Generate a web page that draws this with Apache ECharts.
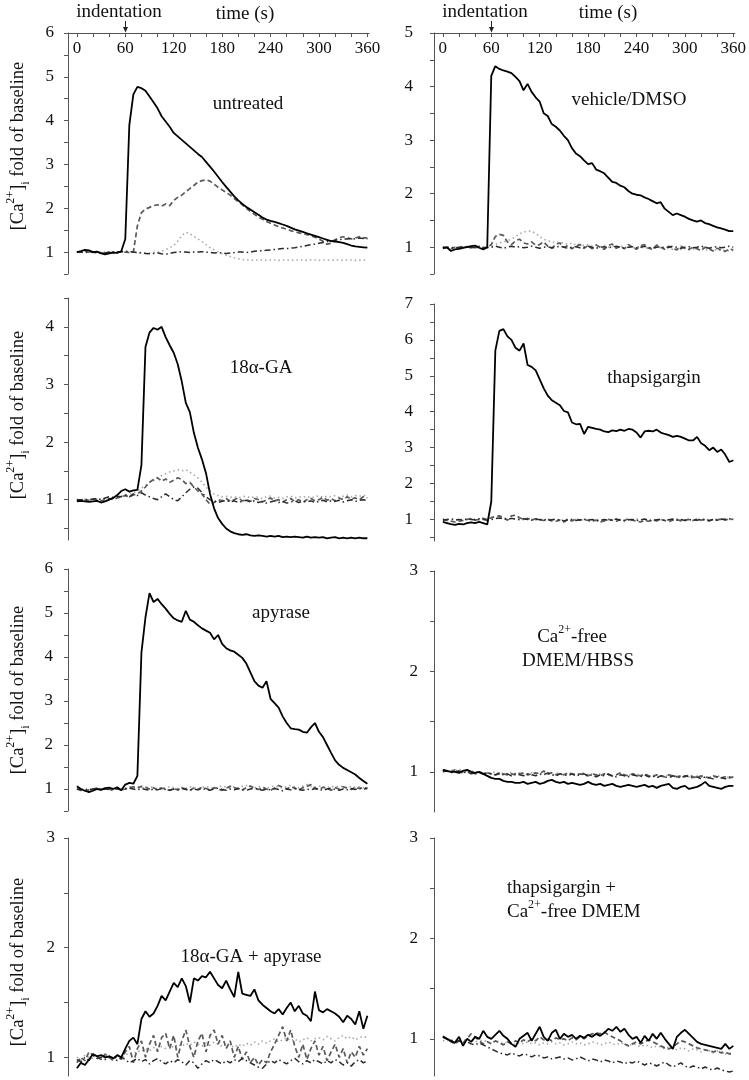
<!DOCTYPE html>
<html><head><meta charset="utf-8">
<script src="https://cdn.jsdelivr.net/npm/echarts@6/dist/echarts.min.js"></script>
<style>html,body{margin:0;padding:0;background:#fff}#c{width:749px;height:1080px}</style>
</head><body><div id="c"></div><script>
const time = [0,5,10,15,20,25,30,35,40,45,50,55,
60,65,70,75,80,85,90,95,100,105,110,115,
120,125,130,135,140,145,150,155,160,165,170,175,
180,185,190,195,200,205,210,215,220,225,230,235,
240,245,250,255,260,265,270,275,280,285,290,295,
300,305,310,315,320,325,330,335,340,345,350,355,
360];
const xTickValues = [0,20,40,60,80,100,120,140,160,180,200,220,240,260,280,300,320,340,360];
const xLabelValues = [0,60,120,180,240,300,360];

// untreated
const untreatedSolid = [1.00,1.02,1.05,1.04,1.00,1.01,0.97,0.95,0.97,0.99,0.98,1.02,
1.30,3.90,4.60,4.77,4.74,4.68,4.55,4.42,4.28,4.10,3.98,3.86,
3.72,3.64,3.56,3.48,3.40,3.32,3.24,3.17,3.06,2.95,2.84,2.72,
2.60,2.49,2.38,2.27,2.18,2.10,2.03,1.97,1.91,1.85,1.79,1.74,
1.71,1.69,1.66,1.63,1.60,1.56,1.52,1.49,1.46,1.43,1.40,1.37,
1.34,1.31,1.28,1.25,1.24,1.23,1.21,1.18,1.15,1.13,1.12,1.11,
1.10];
const untreatedDashed = [1.00,1.00,1.02,1.00,0.99,1.00,0.98,0.97,0.98,1.00,1.00,1.00,
1.00,0.99,1.00,1.60,1.90,1.98,2.02,2.06,2.08,2.05,2.10,2.06,
2.18,2.25,2.30,2.38,2.45,2.52,2.60,2.63,2.65,2.62,2.55,2.48,
2.42,2.36,2.30,2.22,2.15,2.08,2.00,1.93,1.86,1.80,1.75,1.70,
1.66,1.62,1.58,1.55,1.52,1.49,1.46,1.44,1.42,1.40,1.37,1.34,
1.30,1.25,1.18,1.20,1.28,1.33,1.35,1.33,1.30,1.32,1.35,1.33,
1.32];
const untreatedDotted = [1.00,1.00,1.00,1.00,1.00,1.00,1.00,1.00,1.00,1.00,1.00,1.00,
1.00,1.00,1.00,0.99,0.99,0.98,0.98,0.99,1.00,1.02,1.06,1.10,
1.15,1.25,1.38,1.45,1.42,1.36,1.30,1.24,1.17,1.10,1.05,1.00,
0.96,0.93,0.90,0.87,0.85,0.83,0.82,0.82,0.81,0.82,0.82,0.81,
0.82,0.82,0.81,0.82,0.82,0.81,0.82,0.82,0.82,0.81,0.82,0.82,
0.81,0.82,0.82,0.81,0.82,0.82,0.81,0.82,0.82,0.81,0.81,0.82,
0.81];
const untreatedDashDot = [1.00,1.00,0.99,1.00,1.00,0.98,0.97,0.98,1.00,1.00,1.00,1.01,
1.02,1.01,1.00,0.99,0.98,0.97,0.96,0.97,0.98,0.96,0.95,0.97,
0.99,1.00,1.01,1.00,0.99,1.00,1.00,1.01,1.00,0.99,0.98,0.99,
0.98,0.97,0.98,0.99,1.00,1.00,0.99,1.00,1.02,1.03,1.03,1.04,
1.05,1.06,1.07,1.08,1.08,1.09,1.10,1.12,1.13,1.15,1.17,1.18,
1.20,1.22,1.24,1.25,1.27,1.28,1.30,1.30,1.31,1.30,1.32,1.31,
1.30];

// vehicle/DMSO
const vehicleSolid = [0.98,1.00,0.93,0.96,0.97,0.99,1.00,1.02,1.03,0.99,0.96,1.00,
4.20,4.38,4.33,4.30,4.28,4.25,4.18,4.10,3.93,4.05,3.90,3.80,
3.72,3.50,3.45,3.30,3.25,3.18,3.08,3.00,2.85,2.75,2.70,2.62,
2.55,2.57,2.45,2.42,2.38,2.30,2.22,2.20,2.15,2.12,2.05,2.00,
1.98,1.97,1.93,1.90,1.86,1.82,1.84,1.72,1.66,1.60,1.63,1.60,
1.57,1.53,1.50,1.48,1.50,1.45,1.43,1.40,1.37,1.35,1.33,1.30,
1.30];
const vehicleDashed = [1.00,0.99,0.97,1.00,0.98,1.00,1.01,1.00,0.99,1.00,0.98,1.00,
1.05,1.20,1.24,1.22,1.10,1.05,1.12,1.15,1.08,1.06,1.10,1.04,
1.05,1.10,1.02,0.98,1.05,1.08,1.00,1.03,0.97,1.02,1.05,0.98,
1.03,0.97,1.04,1.00,0.96,1.03,1.06,0.98,1.02,0.97,1.05,1.00,
0.96,1.03,1.05,0.98,0.96,1.04,1.00,0.96,1.02,0.98,0.95,1.02,
0.98,0.96,1.00,0.97,0.94,1.00,0.97,0.93,0.98,0.95,0.92,0.97,
0.95];
const vehicleDotted = [1.00,1.01,0.99,1.00,1.00,1.02,1.00,0.99,1.00,1.00,0.99,1.00,
1.02,1.05,1.08,1.10,1.12,1.15,1.20,1.25,1.28,1.30,1.30,1.26,
1.20,1.15,1.12,1.10,1.08,1.10,1.07,1.05,1.08,1.04,1.06,1.03,
1.05,1.02,1.04,1.01,1.03,1.00,1.02,1.00,1.03,0.99,1.01,0.98,
1.02,0.99,1.00,0.97,1.00,0.98,1.00,0.97,0.99,0.96,0.98,0.96,
0.98,0.95,0.97,0.95,0.97,0.94,0.96,0.94,0.96,0.93,0.95,0.93,
0.94];
const vehicleDashDot = [1.00,0.99,1.00,0.98,1.00,1.01,1.00,0.99,1.00,1.02,1.00,0.99,
1.00,1.02,1.00,0.98,1.00,1.02,1.00,1.01,0.99,1.00,1.02,1.00,
0.98,1.00,1.01,0.99,1.00,1.02,1.00,0.98,1.00,1.01,0.99,1.00,
1.02,1.00,0.98,1.00,1.01,0.99,1.00,1.02,1.00,0.98,1.00,1.01,
0.99,1.00,1.02,1.00,0.98,1.00,1.01,0.99,1.00,1.02,1.00,0.98,
1.00,1.01,0.99,1.00,1.02,1.00,0.98,1.00,1.01,0.99,1.00,1.02,
1.00];

// 18α-GA
const gaSolid = [0.97,0.98,0.97,0.96,0.97,0.98,0.95,0.97,1.00,1.03,1.08,1.15,
1.18,1.14,1.16,1.17,1.60,3.65,3.90,3.98,3.95,4.00,3.82,3.68,
3.55,3.35,3.05,2.68,2.52,2.16,1.90,1.70,1.46,1.10,0.85,0.68,
0.58,0.50,0.45,0.42,0.40,0.39,0.40,0.38,0.37,0.38,0.37,0.36,
0.37,0.36,0.37,0.35,0.36,0.35,0.36,0.35,0.34,0.36,0.34,0.35,
0.34,0.35,0.33,0.34,0.35,0.33,0.34,0.33,0.34,0.33,0.34,0.33,
0.33];
const gaDashed = [1.00,0.98,1.00,0.99,1.01,1.00,0.98,1.00,1.02,1.00,1.03,1.05,
1.07,1.05,1.08,1.10,1.15,1.22,1.30,1.35,1.38,1.32,1.36,1.30,
1.34,1.38,1.35,1.28,1.30,1.22,1.15,1.10,1.00,0.92,0.95,1.00,
0.98,1.02,0.97,1.00,1.03,0.98,1.00,0.97,1.02,1.00,0.96,1.00,
1.03,0.98,1.00,0.96,1.00,1.02,0.97,1.00,0.95,1.00,1.02,0.98,
1.00,1.04,0.99,1.02,0.98,1.03,1.00,1.05,1.01,1.03,1.00,1.05,
1.03];
const gaDotted = [1.00,1.00,1.01,1.00,1.00,1.02,1.00,1.01,1.02,1.03,1.05,1.06,
1.08,1.10,1.12,1.15,1.20,1.25,1.30,1.33,1.38,1.42,1.45,1.48,
1.50,1.52,1.50,1.52,1.48,1.43,1.38,1.30,1.22,1.15,1.10,1.07,
1.05,1.06,1.04,1.05,1.03,1.05,1.06,1.03,1.05,1.04,1.02,1.05,
1.06,1.03,1.04,1.02,1.05,1.06,1.03,1.05,1.04,1.06,1.03,1.05,
1.07,1.04,1.06,1.05,1.07,1.04,1.06,1.08,1.05,1.07,1.06,1.08,
1.05];
const gaDashDot = [1.00,1.00,0.99,1.00,1.01,1.02,1.00,1.03,1.05,1.04,1.06,1.05,
1.08,1.05,1.10,1.07,1.12,1.08,1.05,1.02,1.00,1.05,1.10,1.05,
1.00,0.98,1.05,1.12,1.18,1.22,1.20,1.12,1.05,1.00,0.98,0.95,
0.97,0.99,0.96,0.98,0.95,0.97,0.99,0.96,0.98,0.95,0.97,0.94,
0.96,0.98,0.95,0.97,0.94,0.96,0.98,0.95,0.97,0.96,0.98,0.95,
0.97,0.99,0.96,0.98,0.97,0.99,0.96,0.98,1.00,0.97,0.99,1.00,
0.98];

// thapsigargin
const thapsSolid = [0.93,0.90,0.87,0.85,0.88,0.86,0.90,0.92,0.90,0.93,0.90,0.86,
1.50,5.70,6.25,6.30,6.10,6.00,5.78,5.70,5.90,5.30,5.25,5.15,
4.90,4.65,4.45,4.32,4.25,4.18,4.02,3.98,3.70,3.65,3.66,3.38,
3.58,3.55,3.52,3.50,3.45,3.43,3.48,3.46,3.50,3.47,3.52,3.50,
3.42,3.28,3.45,3.47,3.45,3.50,3.42,3.38,3.35,3.30,3.33,3.30,
3.25,3.20,3.20,3.30,3.12,3.05,2.93,3.00,2.88,2.95,2.80,2.60,
2.65];
const thapsDashed = [1.00,0.97,0.95,0.93,0.95,0.97,1.00,1.02,0.98,1.00,1.03,1.00,
1.05,1.08,1.10,1.05,0.98,1.10,1.12,1.05,1.00,1.03,0.98,1.02,
1.00,0.97,1.00,0.96,0.95,0.98,0.93,1.00,0.96,1.02,0.98,1.00,
0.97,0.95,0.98,0.93,0.96,1.00,0.98,0.95,1.00,0.97,1.02,0.98,
0.95,0.93,0.97,0.95,1.00,0.96,1.00,0.97,0.94,0.98,1.00,0.96,
0.98,1.00,0.97,1.01,0.98,1.00,0.96,1.00,0.98,1.02,0.99,1.01,
1.00];
const thapsDotted = [1.02,1.00,0.98,0.97,0.99,1.00,1.02,1.03,1.00,0.99,1.01,1.03,
1.05,1.03,1.06,1.02,1.04,1.00,1.03,1.01,0.99,1.02,1.00,0.98,
1.01,0.99,1.02,0.98,1.00,0.97,0.99,1.01,0.98,1.00,0.97,0.99,
1.00,0.98,1.01,0.97,0.99,1.00,0.98,1.01,0.99,0.97,1.00,0.98,
1.01,0.99,0.97,1.00,0.98,1.01,0.99,0.97,1.00,0.98,1.01,0.99,
0.98,1.00,0.98,1.01,0.99,1.02,0.98,1.00,1.01,0.99,1.02,1.00,
1.01];
const thapsDashDot = [0.98,1.00,1.02,0.99,1.00,0.98,1.01,1.00,0.99,1.02,1.00,0.98,
1.00,1.02,1.04,1.02,1.00,1.03,1.01,0.99,1.02,1.00,0.98,1.01,
0.99,1.00,0.97,0.99,1.01,0.98,0.96,0.99,1.00,0.97,0.99,1.01,
0.98,1.00,0.96,0.98,1.00,0.97,0.99,1.01,0.98,0.96,0.99,1.00,
0.97,0.99,1.01,0.98,0.96,0.99,1.00,0.97,0.99,1.01,0.98,1.00,
0.97,0.99,1.00,0.98,1.01,0.99,0.97,1.00,0.98,1.01,0.99,1.02,
1.00];

// apyrase
const apyrSolid = [1.06,1.00,0.96,0.93,0.96,1.00,0.98,1.02,1.03,1.00,1.04,0.97,
1.10,1.14,1.12,1.30,4.10,4.90,5.45,5.25,5.32,5.20,5.10,4.98,
4.88,4.83,4.80,5.05,4.85,4.80,4.72,4.65,4.60,4.55,4.40,4.50,
4.30,4.20,4.15,4.12,4.05,3.98,3.85,3.65,3.45,3.35,3.30,3.45,
3.05,2.95,2.85,2.65,2.50,2.38,2.36,2.35,2.30,2.28,2.40,2.50,
2.30,2.18,2.00,1.82,1.65,1.55,1.48,1.43,1.38,1.33,1.25,1.18,
1.12];
const apyrDashed = [1.00,0.97,0.95,0.98,1.00,1.02,0.99,1.01,1.00,0.96,1.02,0.98,
1.00,1.03,1.05,1.02,1.06,1.04,1.00,1.03,0.98,1.02,1.00,0.97,
1.01,0.98,1.03,1.00,0.97,1.02,0.99,1.04,1.01,0.98,1.03,1.00,
0.97,1.02,1.06,1.03,1.00,0.98,1.03,1.07,1.02,0.99,1.04,1.00,
0.97,1.02,1.08,1.04,1.00,1.05,1.02,0.98,1.03,1.06,1.10,1.02,
0.99,1.04,1.01,0.97,1.03,1.00,1.05,1.02,0.99,1.04,1.01,1.03,
1.02];
const apyrDotted = [1.02,1.00,0.98,1.00,1.01,0.99,1.02,1.00,1.01,0.99,1.03,1.00,
1.02,1.05,1.03,1.06,1.04,1.02,1.05,1.03,1.00,1.04,1.02,1.05,
1.03,1.01,1.04,1.02,1.05,1.03,1.00,1.04,1.06,1.03,1.01,1.05,
1.07,1.04,1.02,1.05,1.03,1.06,1.08,1.05,1.03,1.06,1.04,1.02,
1.05,1.07,1.04,1.02,1.06,1.08,1.05,1.03,1.07,1.10,1.06,1.04,
1.07,1.05,1.03,1.06,1.04,1.07,1.05,1.03,1.06,1.04,1.05,1.03,
1.04];
const apyrDashDot = [1.00,0.98,1.00,0.97,1.00,1.01,0.98,1.00,0.99,1.01,1.00,0.98,
1.00,1.02,1.00,0.98,1.01,0.99,0.97,1.00,0.98,1.01,0.99,0.97,
1.00,0.98,1.01,0.99,0.97,1.00,0.98,1.01,0.99,0.97,1.00,1.02,
0.99,0.97,1.00,0.98,1.01,0.99,0.97,1.00,1.02,0.99,0.97,1.00,
0.98,1.01,0.99,0.96,1.00,0.98,1.01,0.99,0.97,1.00,0.98,1.01,
0.99,0.97,1.00,1.02,0.99,0.97,1.00,0.98,1.01,0.99,1.02,1.00,
1.01];

// Ca2+-free DMEM/HBSS
const hbssSolid = [1.02,1.01,1.00,1.00,0.99,1.01,1.02,1.00,0.99,1.00,0.98,0.96,
0.94,0.93,0.93,0.91,0.90,0.90,0.89,0.89,0.90,0.88,0.89,0.90,
0.88,0.89,0.91,0.92,0.90,0.89,0.90,0.88,0.89,0.88,0.87,0.88,
0.90,0.88,0.87,0.88,0.86,0.87,0.88,0.86,0.85,0.86,0.87,0.86,
0.85,0.86,0.87,0.85,0.86,0.84,0.86,0.87,0.88,0.84,0.83,0.85,
0.86,0.83,0.84,0.85,0.87,0.90,0.86,0.85,0.84,0.83,0.85,0.86,
0.86];
const hbssDashed = [1.02,1.01,1.00,1.02,1.00,0.99,1.02,1.00,0.98,0.99,0.98,0.99,
0.98,0.97,0.98,0.98,0.97,0.98,0.97,0.98,0.99,0.97,0.98,0.99,
0.98,1.01,0.98,0.99,0.97,0.98,0.97,0.99,0.98,0.97,0.98,0.97,
0.96,0.98,0.97,0.96,0.98,0.97,0.96,0.97,0.99,0.97,0.96,0.98,
0.97,0.96,0.98,0.96,0.95,0.97,0.96,0.95,0.97,0.96,0.95,0.96,
0.95,0.97,0.95,0.94,0.96,0.95,0.94,0.96,0.95,0.94,0.95,0.94,
0.95];
const hbssDotted = [1.01,1.00,1.02,1.01,1.03,1.00,0.99,1.01,1.00,0.99,1.00,0.98,
0.99,1.00,0.98,0.99,0.98,1.00,0.98,0.99,0.98,0.97,0.99,0.98,
0.97,0.99,0.98,0.97,0.99,0.98,0.97,0.99,0.98,0.97,0.98,0.99,
0.97,0.98,0.96,0.98,0.97,0.98,0.96,0.97,0.98,0.96,0.97,0.96,
0.98,0.96,0.97,0.95,0.97,0.96,0.95,0.97,0.96,0.95,0.96,0.95,
0.96,0.95,0.94,0.96,0.95,0.94,0.95,0.94,0.96,0.95,0.94,0.95,
0.94];
const hbssDashDot = [1.00,1.01,0.99,1.00,1.01,0.99,1.00,0.98,0.99,1.00,0.98,0.99,
0.98,0.97,0.99,0.97,0.98,0.96,0.98,0.97,0.96,0.98,0.97,0.96,
0.98,0.97,0.99,0.97,0.96,0.98,0.97,0.96,0.98,0.96,0.97,0.98,
0.96,0.97,0.95,0.97,0.96,0.98,0.96,0.95,0.97,0.96,0.95,0.97,
0.96,0.95,0.97,0.95,0.96,0.94,0.96,0.95,0.94,0.96,0.95,0.94,
0.96,0.95,0.94,0.95,0.93,0.95,0.94,0.93,0.95,0.94,0.93,0.95,
0.94];

// 18α-GA + apyrase
const gaApySolid = [0.90,0.95,0.93,0.98,1.03,1.01,1.02,1.00,1.01,0.99,1.02,1.00,
1.08,1.15,1.18,1.12,1.35,1.42,1.37,1.40,1.47,1.56,1.52,1.60,
1.68,1.64,1.72,1.65,1.50,1.72,1.70,1.74,1.73,1.78,1.72,1.66,
1.63,1.70,1.62,1.55,1.78,1.58,1.57,1.56,1.62,1.52,1.48,1.45,
1.42,1.40,1.44,1.39,1.45,1.50,1.42,1.47,1.40,1.38,1.33,1.60,
1.43,1.41,1.44,1.42,1.40,1.37,1.32,1.38,1.35,1.30,1.42,1.26,
1.38];
const gaApyDashed = [0.95,1.00,0.97,1.05,1.02,1.00,0.98,1.03,1.00,0.97,1.02,0.98,
1.05,1.10,0.95,1.08,1.15,1.00,1.12,1.20,1.05,1.18,1.22,1.08,
1.20,1.00,1.15,1.25,1.10,1.00,1.15,1.22,1.05,1.20,1.25,1.12,
1.20,1.08,1.15,1.00,1.10,0.98,1.05,0.95,1.00,0.93,0.98,0.95,
1.05,1.12,1.20,1.28,1.15,1.25,1.10,1.00,1.12,0.98,1.08,1.15,
1.02,1.10,0.97,1.05,1.12,1.00,1.08,0.95,1.05,1.00,1.10,1.02,
1.08];
const gaApyDotted = [1.00,0.98,1.02,1.00,0.99,1.01,1.00,1.02,0.99,1.01,1.00,0.98,
1.02,1.04,1.03,1.06,1.05,1.08,1.06,1.09,1.07,1.10,1.08,1.11,
1.09,1.12,1.10,1.13,1.11,1.14,1.12,1.10,1.13,1.11,1.14,1.12,
1.10,1.13,1.11,1.09,1.12,1.10,1.13,1.11,1.14,1.12,1.15,1.13,
1.15,1.17,1.14,1.16,1.18,1.15,1.17,1.14,1.16,1.18,1.15,1.17,
1.18,1.16,1.19,1.17,1.15,1.18,1.20,1.17,1.19,1.16,1.18,1.19,
1.18];
const gaApyDashDot = [0.98,0.96,1.00,0.97,1.02,0.99,1.00,0.98,1.01,0.99,0.97,1.00,
0.98,0.95,0.97,0.99,0.96,0.98,0.94,0.97,0.99,0.96,0.94,0.97,
0.95,0.98,0.96,0.93,0.97,0.95,0.90,0.94,0.97,0.95,0.98,0.96,
0.94,0.97,0.95,0.98,0.96,0.99,0.97,0.95,0.93,0.91,0.90,0.94,
0.97,0.95,0.98,0.96,0.94,0.97,0.99,0.96,0.94,0.97,0.95,0.98,
0.96,0.94,0.97,0.95,0.98,0.96,0.93,0.95,0.92,0.96,0.98,0.95,
0.97];

// thapsigargin + Ca2+-free DMEM
const tgFreeSolid = [1.02,1.00,0.98,0.96,1.02,0.93,1.00,0.97,1.02,1.00,1.08,1.02,
1.00,1.04,1.08,1.03,1.00,0.95,0.92,1.00,1.03,1.06,0.98,1.05,
1.12,1.02,0.98,1.06,1.09,1.00,1.05,1.02,1.04,1.00,1.03,1.01,
1.04,1.02,1.05,1.03,1.06,1.10,1.08,1.12,1.07,1.10,1.04,1.00,
1.02,0.96,1.03,0.98,1.05,1.00,1.06,1.00,0.95,0.90,1.02,1.06,
1.09,1.05,1.01,0.97,0.95,0.94,0.93,0.92,0.91,0.90,0.95,0.90,
0.93];
const tgFreeDashed = [1.03,1.00,0.97,0.95,0.98,0.96,1.00,1.05,1.02,0.98,0.95,0.97,
0.95,0.98,0.96,0.94,0.97,0.95,0.98,0.96,0.99,0.97,1.00,0.98,
1.02,0.99,1.00,0.98,1.01,0.99,1.00,0.98,1.01,0.99,1.02,1.00,
1.03,1.05,1.06,1.05,1.07,1.04,1.02,1.00,0.98,0.95,0.93,0.95,
0.97,0.95,0.97,0.99,0.97,0.95,0.93,0.91,0.90,0.92,0.95,0.98,
0.97,0.95,0.93,0.91,0.90,0.89,0.88,0.87,0.88,0.86,0.87,0.85,
0.85];
const tgFreeDotted = [0.98,0.99,0.97,0.98,1.00,0.99,0.98,1.00,0.97,0.98,0.99,0.97,
0.96,0.98,0.97,0.95,0.97,0.96,0.94,0.96,0.95,0.97,0.95,0.96,
0.94,0.96,0.95,0.97,0.95,0.96,0.94,0.95,0.97,0.95,0.96,0.94,
0.95,0.97,0.96,0.94,0.95,0.97,0.95,0.94,0.96,0.95,0.93,0.95,
0.94,0.92,0.94,0.93,0.91,0.93,0.92,0.90,0.92,0.91,0.89,0.91,
0.90,0.88,0.90,0.89,0.87,0.89,0.88,0.86,0.88,0.87,0.85,0.86,
0.85];
const tgFreeDashDot = [1.02,1.00,0.99,0.97,0.98,0.96,0.97,0.95,0.94,0.96,0.94,0.92,
0.90,0.88,0.86,0.85,0.84,0.86,0.84,0.83,0.85,0.84,0.82,0.84,
0.83,0.81,0.82,0.80,0.81,0.82,0.80,0.81,0.79,0.80,0.82,0.80,
0.78,0.80,0.79,0.77,0.79,0.78,0.76,0.78,0.77,0.75,0.77,0.76,
0.78,0.76,0.74,0.76,0.75,0.73,0.75,0.77,0.74,0.72,0.74,0.76,
0.73,0.71,0.73,0.72,0.70,0.72,0.70,0.69,0.71,0.69,0.68,0.67,
0.68];

// y tick labels per panel
const yLabelsUntreated = [1,2,3,4,5,6];
const yLabelsVehicle = [1,2,3,4,5];
const yLabelsGA = [1,2,3,4];
const yLabelsThaps = [1,2,3,4,5,6,7];
const yLabelsApyr = [1,2,3,4,5,6];
const yLabelsHbss = [1,2,3];
const yLabelsGaApy = [1,2,3];
const yLabelsTgFree = [1,2,3];

const FONT = "'Liberation Serif','Times New Roman',serif";

const panels = [
  {solid:untreatedSolid, dashed:untreatedDashed, dotted:untreatedDotted, dashdot:untreatedDashDot,
   labels:yLabelsUntreated, yMin:0.5, yMax:6, left:68, top:33, height:241, topAxis:true, margin:14},
  {solid:vehicleSolid, dashed:vehicleDashed, dotted:vehicleDotted, dashdot:vehicleDashDot,
   labels:yLabelsVehicle, yMin:0.5, yMax:5, left:434, top:33, height:241, topAxis:true, margin:21},
  {solid:gaSolid, dashed:gaDashed, dotted:gaDotted, dashdot:gaDashDot,
   labels:yLabelsGA, yMin:0.3, yMax:4.5, left:68, top:298, height:242, margin:14},
  {solid:thapsSolid, dashed:thapsDashed, dotted:thapsDotted, dashdot:thapsDashDot,
   labels:yLabelsThaps, yMin:0.4, yMax:7, left:434, top:304, height:237, margin:21},
  {solid:apyrSolid, dashed:apyrDashed, dotted:apyrDotted, dashdot:apyrDashDot,
   labels:yLabelsApyr, yMin:0.5, yMax:6, left:68, top:569, height:242, margin:15},
  {solid:hbssSolid, dashed:hbssDashed, dotted:hbssDotted, dashdot:hbssDashDot,
   labels:yLabelsHbss, yMin:0.6, yMax:3, left:434, top:571, height:241, margin:16},
  {solid:gaApySolid, dashed:gaApyDashed, dotted:gaApyDotted, dashdot:gaApyDashDot,
   labels:yLabelsGaApy, yMin:0.83, yMax:3, left:68, top:838, height:238, margin:13},
  {solid:tgFreeSolid, dashed:tgFreeDashed, dotted:tgFreeDotted, dashdot:tgFreeDashDot,
   labels:yLabelsTgFree, yMin:0.63, yMax:3, left:434, top:838, height:238, margin:16}
];

function halfSteps(min, max){
  const out=[]; for(let v=Math.ceil(min*2-1e-9)/2; v<=max+1e-9; v+=0.5) out.push(+v.toFixed(2)); return out;
}
function pairs(arr){ return time.map((t,i)=>[t, arr[i]]); }

const grids=[], xAxes=[], yAxes=[], series=[];
const AX = '#555';
panels.forEach((p,i)=>{
  grids.push({left:p.left, top:p.top, width:301, height:p.height});
  xAxes.push({
    type:'value', gridIndex:i, min:-11, max:362, position:'top', show:!!p.topAxis,
    axisLine:{show:true, onZero:false, lineStyle:{color:AX, width:1}},
    axisTick:{show:true, inside:true, length:4, customValues:xTickValues, lineStyle:{color:AX}},
    axisLabel:{show:true, inside:true, margin:7, customValues:xLabelValues, fontSize:17, fontFamily:FONT, color:'#111'},
    splitLine:{show:false}
  });
  yAxes.push({
    type:'value', gridIndex:i, min:p.yMin, max:p.yMax,
    axisLine:{show:true, onZero:false, lineStyle:{color:AX, width:1}},
    axisTick:{show:true, inside:false, length:4, customValues:halfSteps(p.yMin,p.yMax), lineStyle:{color:AX}},
    axisLabel:{show:true, margin:p.margin, customValues:p.labels, fontSize:17, fontFamily:FONT, color:'#111'},
    splitLine:{show:false}
  });
  const base = {type:'line', xAxisIndex:i, yAxisIndex:i, showSymbol:false, symbol:'none', silent:true, animation:false};
  series.push(Object.assign({}, base, {data:pairs(p.dotted), lineStyle:{color:'#a8a8a8', width:1.6, type:[1.5,3]}}));
  series.push(Object.assign({}, base, {data:pairs(p.dashed), lineStyle:{color:'#5a5a5a', width:1.7, type:[5,3]}}));
  series.push(Object.assign({}, base, {data:pairs(p.dashdot), lineStyle:{color:'#2a2a2a', width:1.5, type:[6,3,1.5,3]}}));
  series.push(Object.assign({}, base, {data:pairs(p.solid), lineStyle:{color:'#000', width:1.8}}));
});

const chart = echarts.init(document.getElementById('c'), null, {renderer:'canvas'});
chart.setOption({animation:false, backgroundColor:'#fff', grid:grids, xAxis:xAxes, yAxis:yAxes, series:series});

function txt(text, x, y, opts){
  return Object.assign({type:'text', x:x, y:y, silent:true, style:Object.assign({
    text:text, fontSize:19, fontFamily:FONT, fill:'#111', align:'center', verticalAlign:'middle',
    rich:{
      sup:{fontSize:12, fontFamily:FONT, fill:'#111', verticalAlign:'top', lineHeight:12},
      sub:{fontSize:12, fontFamily:FONT, fill:'#111', verticalAlign:'bottom', lineHeight:12}
    }, lineHeight:27}, opts && opts.style || {})}, opts && opts.el || {});
}
const g = [];
const yTitle = '[Ca{sup|2+}]{sub|i} fold of baseline';
[146,415,690,962].forEach(y=>g.push(txt(yTitle, 18, y, {el:{rotation:Math.PI/2}, style:{fontSize:18.5}})));
g.push(txt('indentation',119,12));
g.push(txt('indentation',485,12));
g.push(txt('time (s)',245,14));
g.push(txt('time (s)',608,13));
g.push(txt('untreated',248,104));
g.push(txt('vehicle/DMSO',629,100));
g.push(txt('18α-GA',261,368));
g.push(txt('thapsigargin',654,378));
g.push(txt('apyrase',281,613));
g.push(txt('Ca{sup|2+}-free',572,637));
g.push(txt('DMEM/HBSS',578,661));
g.push(txt('18α-GA + apyrase',251,957));
g.push(txt('thapsigargin +',507,888,{style:{align:'left'}}));
g.push(txt('Ca{sup|2+}-free DMEM',507,912,{style:{align:'left'}}));

// indentation arrows at t = 60 s
[[0,6],[1,5]].forEach(([gi,ymax])=>{
  const p = chart.convertToPixel({gridIndex:gi}, [60, ymax]);
  const x = Math.round(p[0])+0.5, y = p[1];
  g.push({type:'line', silent:true, shape:{x1:x,y1:y-12,x2:x,y2:y-4}, style:{stroke:'#222', lineWidth:1}});
  g.push({type:'polygon', silent:true, shape:{points:[[x-2.5,y-6],[x+2.5,y-6],[x,y-0.5]]}, style:{fill:'#222'}});
});
chart.setOption({graphic:{elements:g}});
</script></body></html>
